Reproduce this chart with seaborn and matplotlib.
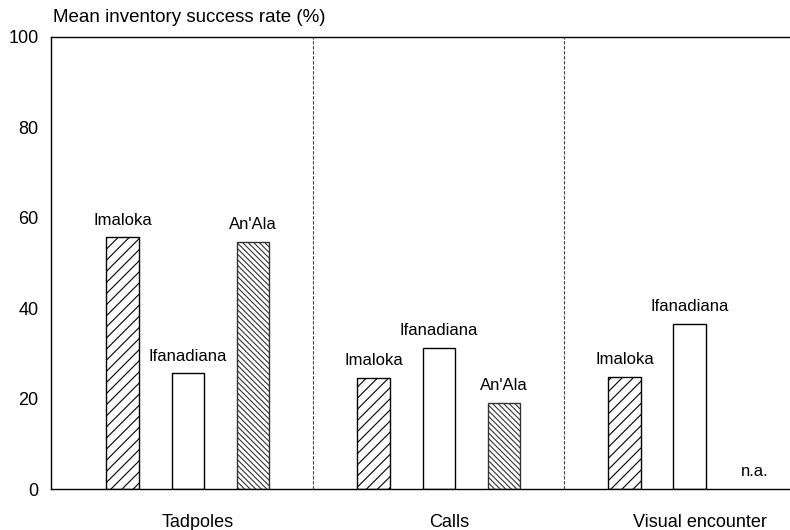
import pandas as pd
import numpy as np
import matplotlib
matplotlib.use("Agg")
import matplotlib.pyplot as plt
import matplotlib.transforms as mtransforms
import seaborn as sns

# values (percent)
methods = ["Tadpoles", "Calls", "Visual encounter"]
sites = ["Imaloka", "Ifanadiana", "An'Ala"]
imaloka = [55.7, 24.6, 24.8]
ifanadiana = [25.6, 31.2, 36.6]
an_ala = [54.6, 19.0, np.nan]  # not assessed for visual encounter

rows = []
for site, vals in zip(sites, [imaloka, ifanadiana, an_ala]):
    for m, v in zip(methods, vals):
        rows.append({"method": m, "site": site, "rate": v})
df = pd.DataFrame(rows).dropna()

sns.set_style("white")
plt.rcParams['font.family'] = ['Liberation Sans', 'DejaVu Sans']
plt.rcParams['hatch.linewidth'] = 0.8
plt.rcParams['text.color'] = 'black'
plt.rcParams['xtick.color'] = 'black'
plt.rcParams['ytick.color'] = 'black'

fig = plt.figure(figsize=(7.9, 5.3), dpi=100)
ax = fig.add_axes([51 / 790, 41 / 530, 739 / 790, 452 / 530])

sns.barplot(data=df, x="method", y="rate", hue="site", order=methods,
            hue_order=sites, palette=["white"] * 3, edgecolor="black",
            linewidth=1.0, width=0.78, gap=0.5, errorbar=None, ax=ax,
            legend=False)

hatches = ["///", "", "\\" * 6]
for cont, site, h in zip(ax.containers, sites, hatches):
    for bar in cont:
        bar.set_hatch(h)
        if h.startswith("\\"):
            bar.set_edgecolor("0.2")
        hgt = bar.get_height()
        if np.isnan(hgt):
            continue
        ax.annotate(site, (bar.get_x() + bar.get_width() / 2, hgt),
                    xytext=(0, 7), textcoords="offset points",
                    ha="center", va="bottom", fontsize=12, color="black")

# n.a. where An'Ala has no value
first_an = ax.containers[2][0]
offset = first_an.get_x() + first_an.get_width() / 2
for i, v in enumerate(an_ala):
    if np.isnan(v):
        ax.annotate("n.a.", (i + offset, 0), xytext=(0, 7),
                    textcoords="offset points", ha="center", va="bottom",
                    fontsize=12, color="black")

# group separators
for x in [0.5, 1.5]:
    ax.axvline(x, color="0.25", lw=0.8, ls=(0, (3, 1.5)))

ax.set_xlim(-0.546, 2.40)
ax.set_ylim(0, 100)
ax.set_yticks([0, 20, 40, 60, 80, 100])
ax.tick_params(length=0, labelsize=13, labelcolor="black")
ax.tick_params(axis="x", pad=18)
ax.tick_params(axis="y", pad=9)
ax.set_xlabel("")
ax.set_ylabel("")
shift = mtransforms.ScaledTranslation(10 / 100, 0, fig.dpi_scale_trans)
for lab in ax.get_xticklabels():
    lab.set_transform(lab.get_transform() + shift)
for s in ["left", "top", "bottom"]:
    ax.spines[s].set_visible(True)
    ax.spines[s].set_color("black")
    ax.spines[s].set_linewidth(1.0)
ax.spines["right"].set_visible(False)

fig.text(53 / 790, 1 - 17 / 530, "Mean inventory success rate (%)",
         ha="left", va="center", fontsize=13.5, color="black")

fig.savefig("out.png", dpi=100)
